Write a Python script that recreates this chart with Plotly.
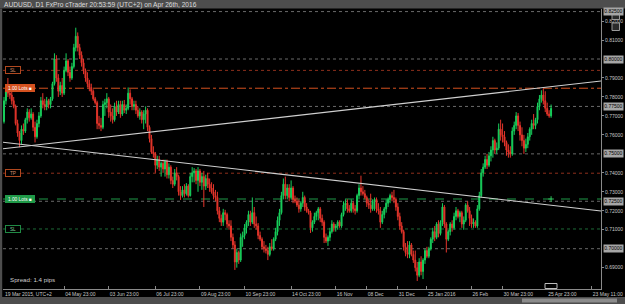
import plotly.graph_objects as go

# ---------------- data (prices in 1/10000 units) ----------------
opens = [
    7670,7780,7830,7820,7810,7780,7750,7660,7610,7570,
    7630,7620,7680,7720,7690,7710,7640,7590,7660,7700,
    7780,7760,7750,7780,7760,7790,7870,8000,7900,7830,
    7860,7820,7940,7990,7930,7900,7960,8060,8120,8060,
    8020,7980,7940,7900,7870,7850,7830,7790,7770,7660,
    7650,7640,7760,7770,7790,7720,7700,7680,7750,7720,
    7760,7710,7760,7730,7740,7820,7790,7750,7760,7730,
    7700,7720,7680,7710,7730,7640,7580,7510,7500,7440,
    7470,7430,7450,7420,7460,7390,7430,7360,7340,7400,
    7380,7300,7280,7310,7290,7330,7280,7380,7400,7410,
    7360,7410,7350,7380,7330,7370,7340,7320,7300,7280,
    7270,7200,7160,7140,7190,7180,7130,7120,7060,7020,
    6930,6980,6940,7060,7070,7110,7140,7180,7140,7190,
    7130,7120,7070,7050,7010,7000,6990,6970,7010,7000,
    7050,7090,7150,7190,7280,7340,7280,7320,7270,7320,
    7260,7250,7230,7210,7240,7270,7220,7200,7190,7110,
    7140,7170,7190,7210,7160,7140,7060,7040,7060,7090,
    7130,7110,7120,7140,7120,7180,7230,7240,7210,7200,
    7240,7210,7200,7280,7320,7300,7290,7270,7240,7230,
    7210,7250,7260,7210,7200,7140,7180,7210,7240,7260,
    7280,7270,7260,7220,7170,7120,7090,7010,6980,6970,
    7020,6970,6940,6900,6860,6930,6880,6940,6990,6960,
    7000,7050,7090,7060,7130,7080,7140,7220,7130,7050,
    7090,7130,7110,7170,7200,7170,7190,7130,7150,7230,
    7200,7160,7130,7140,7120,7210,7280,7400,7430,7470,
    7440,7490,7520,7570,7520,7530,7630,7600,7590,7560,
    7520,7510,7500,7620,7650,7700,7650,7600,7570,7530,
    7550,7590,7630,7660,7650,7680,7750,7790,7810,7780,
    7740,7710,7700,
]
highs = [
    7800,7850,7900,7860,7840,7800,7760,7680,7620,7650,
    7660,7690,7740,7735,7740,7720,7670,7680,7720,7800,
    7820,7790,7800,7790,7800,7880,8030,8020,7920,7880,
    7900,7960,8030,8000,7960,7980,8080,8165,8140,8080,
    8040,8000,7950,7930,7890,7870,7840,7800,7780,7700,
    7690,7780,7790,7820,7800,7760,7740,7770,7780,7780,
    7780,7780,7784,7760,7850,7840,7800,7780,7780,7750,
    7740,7730,7730,7750,7740,7650,7600,7540,7510,7490,
    7490,7460,7470,7470,7470,7450,7440,7380,7420,7430,
    7390,7330,7330,7340,7346,7340,7400,7430,7425,7420,
    7430,7420,7400,7410,7390,7400,7370,7350,7340,7310,
    7300,7220,7180,7210,7205,7190,7150,7150,7080,7040,
    7000,6990,7080,7090,7130,7150,7200,7200,7270,7220,
    7170,7135,7090,7060,7040,7020,7010,7030,7050,7060,
    7110,7170,7210,7300,7370,7380,7340,7340,7360,7330,
    7280,7270,7260,7250,7300,7280,7240,7210,7200,7150,
    7190,7200,7220,7220,7180,7150,7080,7070,7110,7150,
    7140,7130,7150,7150,7190,7250,7260,7260,7230,7260,
    7250,7230,7290,7340,7385,7330,7310,7280,7260,7290,
    7260,7270,7270,7240,7220,7200,7220,7260,7270,7290,
    7300,7310,7270,7240,7190,7140,7100,7030,7040,7040,
    7030,6990,6990,6930,6950,6960,6950,7000,7010,7010,
    7060,7110,7120,7140,7150,7150,7240,7230,7140,7100,
    7140,7150,7190,7220,7210,7200,7200,7170,7240,7250,
    7220,7180,7160,7150,7230,7300,7420,7450,7490,7500,
    7510,7540,7590,7580,7560,7660,7680,7660,7620,7570,
    7550,7540,7640,7670,7720,7715,7670,7640,7600,7580,
    7610,7640,7680,7710,7690,7770,7810,7835,7845,7830,
    7770,7730,7760,
]
lows = [
    7660,7760,7800,7790,7760,7740,7650,7590,7535,7550,
    7600,7610,7660,7670,7680,7620,7560,7580,7640,7690,
    7740,7730,7730,7740,7740,7780,7860,7880,7800,7810,
    7800,7810,7930,7910,7880,7890,7950,8040,8040,8000,
    7960,7920,7880,7850,7830,7810,7780,7760,7630,7630,
    7620,7630,7700,7740,7690,7670,7660,7670,7700,7710,
    7690,7700,7715,7710,7730,7760,7730,7730,7710,7690,
    7680,7660,7630,7660,7620,7560,7500,7480,7400,7420,
    7410,7380,7400,7380,7370,7370,7340,7320,7330,7360,
    7280,7257,7270,7270,7280,7270,7275,7350,7350,7340,
    7300,7330,7310,7220,7310,7320,7300,7290,7260,7250,
    7180,7140,7120,7120,7150,7110,7100,7040,7000,6888,
    6900,6920,6930,7010,7050,7080,7120,7120,7130,7110,
    7100,7050,7040,6995,6980,6975,6940,6960,6990,6990,
    7040,7070,7120,7180,7260,7260,7260,7250,7260,7240,
    7240,7220,7190,7195,7220,7200,7190,7180,7083,7090,
    7130,7150,7150,7140,7120,7030,7030,7015,7040,7080,
    7090,7090,7100,7110,7110,7170,7200,7190,7190,7190,
    7190,7180,7190,7260,7280,7280,7260,7220,7210,7190,
    7200,7200,7190,7180,7110,7130,7160,7190,7220,7240,
    7250,7240,7200,7150,7100,7080,6990,6960,6950,6950,
    6960,6925,6880,6830,6850,6860,6840,6920,6950,6950,
    6990,7030,7040,7050,7060,7070,7120,7110,6980,7040,
    7070,7090,7100,7150,7160,7140,7110,7100,7140,7190,
    7120,7110,7110,7110,7110,7200,7270,7380,7420,7420,
    7430,7460,7480,7500,7500,7520,7570,7560,7540,7490,
    7480,7480,7490,7600,7630,7620,7570,7540,7500,7510,
    7530,7570,7600,7630,7630,7660,7730,7770,7760,7720,
    7700,7690,7690,
]
closes = [
    7780,7830,7820,7810,7780,7750,7660,7610,7570,7630,
    7620,7680,7720,7690,7710,7640,7590,7660,7700,7780,
    7760,7750,7780,7760,7790,7870,8000,7900,7830,7860,
    7820,7940,7990,7930,7900,7960,8060,8120,8060,8020,
    7980,7940,7900,7870,7850,7830,7790,7770,7660,7650,
    7640,7760,7770,7790,7720,7700,7680,7750,7720,7760,
    7710,7760,7730,7740,7820,7790,7750,7760,7730,7700,
    7720,7680,7710,7730,7640,7580,7510,7500,7440,7470,
    7430,7450,7420,7460,7390,7430,7360,7340,7400,7380,
    7300,7280,7310,7290,7330,7280,7380,7400,7410,7360,
    7410,7350,7380,7330,7370,7340,7320,7300,7280,7270,
    7200,7160,7140,7190,7180,7130,7120,7060,7020,6930,
    6980,6940,7060,7070,7110,7140,7180,7140,7190,7130,
    7120,7070,7050,7010,7000,6990,6970,7010,7000,7050,
    7090,7150,7190,7280,7340,7280,7320,7270,7320,7260,
    7250,7230,7210,7240,7270,7220,7200,7190,7110,7140,
    7170,7190,7210,7160,7140,7060,7040,7060,7090,7130,
    7110,7120,7140,7120,7180,7230,7240,7210,7200,7240,
    7210,7200,7280,7320,7300,7290,7270,7240,7230,7210,
    7250,7260,7210,7200,7140,7180,7210,7240,7260,7280,
    7270,7260,7220,7170,7120,7090,7010,6980,6970,7020,
    6970,6940,6900,6860,6930,6880,6940,6990,6960,7000,
    7050,7090,7060,7130,7080,7140,7220,7130,7050,7090,
    7130,7110,7170,7200,7170,7190,7130,7150,7230,7200,
    7160,7130,7140,7120,7210,7280,7400,7430,7470,7440,
    7490,7520,7570,7520,7530,7630,7600,7590,7560,7520,
    7510,7500,7620,7650,7700,7650,7600,7570,7530,7550,
    7590,7630,7660,7650,7680,7750,7790,7810,7780,7740,
    7710,7700,7740,
]

x_tick_bars = [0, 31, 54, 78, 101, 124, 148, 171, 187, 203, 218, 241, 257, 280, 303]
x_tick_text = ["19 Mar 2015, UTC+2", "04 May 23:00", "03 Jun 23:00", "06 Jul 23:00",
               "09 Aug 23:00", "10 Sep 23:00", "14 Oct 23:00", "16 Nov", "08 Dec",
               "31 Dec", "25 Jan 2016", "26 Feb", "30 Mar 23:00", "25 Apr 23:00",
               "23 May 11:00"]

price_ticks = [0.69, 0.71, 0.72, 0.73, 0.74, 0.76, 0.77, 0.78, 0.79, 0.81, 0.82]
level_lines = [0.70, 0.725, 0.75, 0.775, 0.80, 0.825]

sell_sl, sell_entry, sell_tp = 0.7940, 0.7846, 0.7398
buy_entry, buy_sl = 0.7262, 0.7104

trend_x = [-2.0, 307.8]
trend_up_y = [0.7525, 0.7884]
trend_down_y = [0.7563, 0.7199]

title_text = "AUDUSD, D1 FxPro cTrader 20:53:59 (UTC+2) on Apr 26th, 2016"
spread_text = "Spread: 1.4 pips"

# ---------------- layout helpers ----------------
W, H = 625, 304
ML, MR, MT, MB = 3, 24, 9, 15
PX0, PX1 = ML, W - MR
PY0, PY1 = MT, H - MB
FONT = "Liberation Sans, Arial, sans-serif"


def px(x):
    return (x - PX0) / (PX1 - PX0)


def py(y):
    return (PY1 - y) / (PY1 - PY0)


scale = 10000.0
idx = list(range(len(closes)))
o = [v / scale for v in opens]
h = [v / scale for v in highs]
l = [v / scale for v in lows]
c = [v / scale for v in closes]

fig = go.Figure()

fig.add_trace(go.Candlestick(
    x=idx, open=o, high=h, low=l, close=c,
    increasing=dict(line=dict(color="#18cf5c", width=1), fillcolor="#18cf5c"),
    decreasing=dict(line=dict(color="#e5352b", width=1), fillcolor="#e5352b"),
    whiskerwidth=0, hoverinfo="skip",
))

# trend lines
for ty in (trend_up_y, trend_down_y):
    fig.add_trace(go.Scatter(x=trend_x, y=ty, mode="lines",
                             line=dict(color="#d0d0d0", width=1.1), hoverinfo="skip"))

# small green marker at the end of the buy order line
fig.add_trace(go.Scatter(x=[idx[-1]], y=[buy_entry], mode="markers",
                         marker=dict(symbol="cross-thin", size=4,
                                     line=dict(color="#2fbf5a", width=1)),
                         hoverinfo="skip"))

shapes = []
for lv in level_lines:
    shapes.append(dict(type="line", xref="paper", yref="y", x0=0, x1=1, y0=lv, y1=lv,
                       line=dict(color="#6a6a6a", width=1, dash="dot"), layer="below"))
for lv, col, dash in [(sell_sl, "#8e2f1c", "dot"), (sell_entry, "#d4511f", "dashdot"),
                      (sell_tp, "#8e2f1c", "dot"), (buy_entry, "#1f9a48", "dash"),
                      (buy_sl, "#1d6a38", "dot")]:
    shapes.append(dict(type="line", xref="paper", yref="y", x0=0, x1=1, y0=lv, y1=lv,
                       line=dict(color=col, width=1, dash=dash), layer="below"))

# frame elements (title bar, scrollbar, left strip)
shapes += [
    dict(type="rect", xref="paper", yref="paper", x0=px(0), x1=px(625), y0=py(0), y1=py(8.5),
         fillcolor="#4d4d4d", line=dict(width=0)),
    dict(type="rect", xref="paper", yref="paper", x0=px(0), x1=px(2.2), y0=py(8.5), y1=py(297),
         fillcolor="#4d4d4d", line=dict(width=0)),
    dict(type="rect", xref="paper", yref="paper", x0=px(0), x1=px(625), y0=py(297), y1=py(304),
         fillcolor="#4d4d4d", line=dict(width=0)),
    dict(type="rect", xref="paper", yref="paper", x0=px(522), x1=px(617), y0=py(298.5), y1=py(302.5),
         fillcolor="#8c8c8c", line=dict(width=0)),
    # top-right icons
    dict(type="rect", xref="paper", yref="paper", x0=px(612), x1=px(619.5), y0=py(12), y1=py(19.5),
         fillcolor="#2a2a2a", line=dict(color="#9a9a9a", width=1)),
    dict(type="rect", xref="paper", yref="paper", x0=px(612), x1=px(619.5), y0=py(23), y1=py(30.5),
         fillcolor="#2a2a2a", line=dict(color="#9a9a9a", width=1)),
    # chart shift marker
    dict(type="rect", xref="paper", yref="paper", x0=px(545), x1=px(557), y0=py(283.5), y1=py(288.5),
         fillcolor="#000000", line=dict(color="#bdbdbd", width=1)),
]

ann = []
ann.append(dict(text=title_text, xref="paper", yref="paper", x=px(2), y=py(4.6),
                xanchor="left", yanchor="middle", showarrow=False,
                font=dict(family=FONT, size=6.6, color="#dcdcdc")))
ann.append(dict(text=spread_text, xref="paper", yref="paper", x=px(8), y=py(279),
                xanchor="left", yanchor="middle", showarrow=False,
                font=dict(family=FONT, size=6.2, color="#cfcfcf")))

# left order labels
for lv, txt, bg, border, fc, wbox in [
    (sell_sl, "SL", "#000000", "#b0481f", "#d08a6a", 13),
    (sell_entry, "1.00 Lots \u25a0", "#d4511f", "#d4511f", "#ffffff", 27),
    (sell_tp, "TP", "#000000", "#b0481f", "#d08a6a", 13),
    (buy_entry, "1.00 Lots \u25a0", "#1f9a48", "#1f9a48", "#ffffff", 27),
    (buy_sl, "SL", "#000000", "#1f8a44", "#7fcf9a", 13),
]:
    ann.append(dict(text=txt, xref="paper", yref="y", x=px(4.5), y=lv,
                    xanchor="left", yanchor="middle", showarrow=False,
                    width=wbox, height=5, align="center",
                    bgcolor=bg, bordercolor=border, borderwidth=1, borderpad=0.5,
                    font=dict(family=FONT, size=4.8, color=fc)))

# boxed price labels on the right axis
for lv in level_lines:
    ann.append(dict(text=f"{lv:.5f}", xref="paper", yref="y", x=px(602.5), y=lv,
                    xanchor="left", yanchor="middle", showarrow=False,
                    bgcolor="#a6a6a6", borderpad=0.3,
                    font=dict(family=FONT, size=5, color="#000000")))

fig.update_layout(
    width=W, height=H,
    margin=dict(l=ML, r=MR, t=MT, b=MB, pad=0, autoexpand=False),
    paper_bgcolor="#000000", plot_bgcolor="#000000",
    showlegend=False,
    shapes=shapes, annotations=ann,
    xaxis=dict(range=[(PX0 - 4) / 1.94, (PX1 - 4) / 1.94],
               rangeslider=dict(visible=False), showgrid=False, zeroline=False,
               tickmode="array", tickvals=x_tick_bars, ticktext=x_tick_text,
               tickangle=0, automargin=False,
               ticks="inside", ticklen=3, tickcolor="#8a8a8a",
               ticklabelposition="outside right",
               tickfont=dict(family=FONT, size=5, color="#c8c8c8"),
               showline=True, linecolor="#8a8a8a", linewidth=1, fixedrange=True),
    yaxis=dict(side="right", range=[0.67876, 0.82636], showgrid=False, zeroline=False,
               automargin=False,
               tickmode="array", tickvals=price_ticks,
               ticktext=[f"{v:.5f}" for v in price_ticks],
               ticks="outside", ticklen=2, tickcolor="#8a8a8a",
               tickfont=dict(family=FONT, size=5, color="#c8c8c8"),
               showline=True, linecolor="#8a8a8a", linewidth=1, fixedrange=True),
)

fig.write_html("out.html")
